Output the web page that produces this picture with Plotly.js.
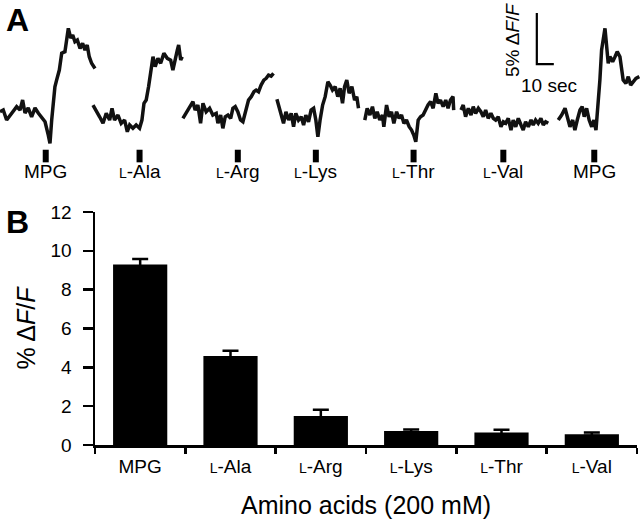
<!DOCTYPE html>
<html>
<head>
<meta charset="utf-8">
<script src="https://cdn.plot.ly/plotly-3.0.1.min.js"></script>
<style>html,body{margin:0;padding:0;background:#fff;}#chart{width:640px;height:520px;}</style>
</head>
<body>
<div id="chart"></div>
<script>
// ---------- Panel B data ----------
const categories = ['MPG', 'L-Ala', 'L-Arg', 'L-Lys', 'L-Thr', 'L-Val'];
const categoryLabels = ['MPG', '<span style="font-size:14px">L</span>-Ala', '<span style="font-size:14px">L</span>-Arg',
  '<span style="font-size:14px">L</span>-Lys', '<span style="font-size:14px">L</span>-Thr', '<span style="font-size:14px">L</span>-Val'];
const meanValues = [9.3, 4.58, 1.5, 0.72, 0.64, 0.56];
const semValues = [0.28, 0.27, 0.32, 0.08, 0.14, 0.08];
const yTickVals = [0, 2, 4, 6, 8, 10, 12];

// ---------- Panel A data (time in s, signal in % dF/F) ----------
const mpg1T = [0, 1.9, 3.9, 5.9, 7.8, 9.8, 11.8, 13.3, 14.7, 16.6, 18.6, 20.6, 22.5, 24.5, 26.5, 28.4, 29.4, 30.4, 31.3, 32.3, 33.3, 34.9, 36.3, 38.2, 39.2, 40.2, 41.6, 42.8, 44.1, 45.5, 47.1, 48.6, 50.0, 51.3, 52.5, 53.9, 55.9];
const mpg1V = [3.76, 3.92, 2.94, 3.43, 3.75, 4.25, 3.92, 4.9, 3.63, 4.12, 3.26, 4.12, 3.63, 3.26, 2.77, 1.47, 0.66, 2.94, 4.9, 6.2, 6.86, 7.84, 9.5, 9.64, 10.78, 11.93, 10.98, 11.27, 10.62, 10.78, 9.97, 10.46, 9.8, 10.29, 9.15, 8.5, 8.0];
const alaT = [54.7, 56.6, 58.6, 60.6, 62.5, 64.5, 65.9, 67.4, 69.4, 71.3, 73.3, 74.9, 76.3, 78.2, 80.1, 82.1, 83.5, 84.7, 86.0, 87.4, 88.6, 90.0, 91.3, 92.9, 94.5, 96.4, 98.4, 100.4, 101.7, 103.1, 104.3, 105.1, 106.3, 107.2];
const alaV = [4.41, 3.92, 3.26, 2.62, 3.6, 2.94, 4.09, 2.94, 3.43, 2.62, 2.94, 1.79, 2.45, 2.13, 2.45, 2.13, 2.94, 4.58, 4.9, 6.21, 7.52, 9.15, 8.17, 8.99, 8.5, 9.48, 8.99, 8.82, 7.84, 9.15, 9.8, 10.29, 8.82, 9.15];
const argT = [107.6, 109.5, 111.5, 113.5, 114.8, 116.4, 118.0, 119.4, 121.3, 123.3, 125.2, 127.2, 128.2, 129.8, 131.1, 132.5, 134.1, 135.7, 137.0, 138.4, 139.9, 141.5, 142.9, 144.5, 146.2, 147.8, 149.4, 150.7, 152.1, 153.6, 155.2, 156.6, 158.0, 159.5, 160.9];
const argV = [3.11, 3.6, 4.09, 4.74, 3.92, 4.41, 2.62, 4.58, 3.75, 4.09, 3.43, 3.6, 2.62, 3.43, 2.13, 3.26, 3.43, 3.11, 4.09, 4.25, 3.75, 2.94, 2.77, 3.92, 4.9, 5.23, 5.72, 5.88, 5.72, 6.37, 6.86, 7.03, 7.35, 7.25, 7.52];
const lysT = [162.9, 164.2, 165.4, 166.8, 168.2, 169.8, 171.3, 172.7, 174.0, 175.6, 177.2, 178.6, 179.9, 181.5, 183.0, 184.5, 185.8, 187.0, 188.3, 189.8, 191.3, 192.9, 194.2, 195.6, 197.2, 198.7, 200.1, 201.5, 202.7, 204.0, 205.4, 207.0, 208.6, 209.9, 210.9];
const lysV = [4.97, 4.09, 3.26, 2.62, 3.75, 2.94, 3.6, 2.28, 3.6, 2.94, 3.26, 2.45, 3.43, 2.77, 3.92, 4.09, 2.94, 1.3, 2.94, 4.41, 5.23, 6.7, 6.37, 5.88, 6.21, 5.23, 6.05, 4.58, 6.21, 6.86, 5.56, 6.21, 4.9, 5.23, 4.09];
const thrT = [214.6, 216.0, 217.6, 219.1, 220.5, 221.9, 223.4, 225.0, 225.8, 227.4, 228.9, 230.3, 231.7, 233.3, 234.8, 236.2, 237.6, 239.1, 240.7, 242.1, 243.4, 244.6, 246.0, 247.4, 248.9, 250.5, 251.8, 253.3, 254.8, 256.4, 257.7, 259.1, 260.7, 262.2, 263.6, 265.0, 266.5, 266.9];
const thrV = [2.94, 4.09, 3.43, 4.25, 3.11, 3.75, 2.94, 3.43, 2.28, 4.41, 3.26, 3.75, 2.62, 3.75, 3.11, 3.43, 2.62, 2.94, 2.28, 1.96, 1.47, 0.81, 2.94, 3.26, 3.43, 4.09, 4.41, 4.74, 4.09, 5.56, 4.58, 4.9, 4.25, 4.9, 4.09, 4.9, 5.23, 3.92];
const valT = [271.2, 272.5, 273.9, 275.5, 277.1, 278.4, 279.8, 281.4, 282.9, 284.3, 285.7, 287.2, 288.8, 290.2, 291.6, 293.1, 294.7, 296.1, 297.5, 299.0, 300.6, 301.9, 303.4, 304.9, 306.5, 307.8, 309.2, 310.8, 312.4, 313.7, 315.1, 316.6, 318.2, 319.6, 321.0, 322.5];
const valV = [3.92, 4.41, 3.26, 4.09, 3.43, 4.25, 3.6, 4.09, 3.75, 3.26, 3.92, 3.11, 3.6, 3.11, 2.94, 3.26, 2.28, 2.77, 2.62, 3.11, 1.96, 2.94, 2.28, 3.11, 2.45, 1.96, 2.77, 2.28, 2.94, 2.45, 2.94, 2.62, 3.11, 2.45, 2.77, 2.62];
const mpg2T = [328.4, 330.4, 332.4, 333.7, 335.3, 336.9, 338.2, 339.6, 341.2, 342.5, 343.7, 345.1, 346.6, 348.1, 349.4, 350.6, 351.9, 352.9, 353.9, 354.9, 355.9, 356.9, 357.8, 358.8, 360.4, 361.8, 363.1, 364.7, 365.7, 366.6, 368.2, 369.6, 371.0, 372.5, 374.1, 376.1];
const mpg2V = [2.94, 3.43, 4.09, 3.11, 2.28, 2.94, 1.96, 2.94, 3.92, 4.25, 3.26, 4.09, 2.94, 2.28, 2.94, 1.96, 4.25, 6.86, 9.8, 11.11, 11.93, 10.13, 8.5, 9.15, 8.66, 9.15, 9.64, 9.15, 7.84, 6.86, 6.54, 7.19, 6.37, 6.7, 7.03, 7.19];

const stimTimes = [26.9, 82.1, 139.9, 185.8, 243.3, 296.1, 349.6];
const stimLabels = ['MPG', '<span style="font-size:14px">L</span>-Ala', '<span style="font-size:14px">L</span>-Arg',
  '<span style="font-size:14px">L</span>-Lys', '<span style="font-size:14px">L</span>-Thr', '<span style="font-size:14px">L</span>-Val', 'MPG'];

// scale bar sizes (data units)
const scaleBarSec = 10;
const scaleBarPct = 5;

// ---------- layout constants ----------
const FONT = 'Liberation Sans, Arial, sans-serif';
const stimLevel = -0.59;
const sbT0 = 315.8, sbV0 = 8.43;

const lineStyle = {color: '#111', width: 3.5};
const tracePairs = [[mpg1T, mpg1V], [alaT, alaV], [argT, argV], [lysT, lysV], [thrT, thrV], [valT, valV], [mpg2T, mpg2V]];

const data = [];
tracePairs.forEach(p => data.push({
  type: 'scatter', mode: 'lines', x: p[0], y: p[1], xaxis: 'x2', yaxis: 'y2',
  line: lineStyle, hoverinfo: 'skip', showlegend: false
}));
data.push({
  type: 'scatter', mode: 'markers', x: stimTimes, y: stimTimes.map(() => stimLevel),
  xaxis: 'x2', yaxis: 'y2', showlegend: false, hoverinfo: 'skip', cliponaxis: false,
  marker: {symbol: 'line-ns', size: 9, line: {width: 6, color: '#000'}, color: '#000'}
});
data.push({
  type: 'scatter', mode: 'lines', x: [sbT0, sbT0, sbT0 + scaleBarSec], y: [sbV0 + scaleBarPct, sbV0, sbV0],
  xaxis: 'x2', yaxis: 'y2', showlegend: false, hoverinfo: 'skip',
  line: {color: '#000', width: 2.2}
});
data.push({
  type: 'bar', x: categories, y: meanValues, width: 0.6, showlegend: false,
  marker: {color: '#000', line: {width: 0}},
  error_y: {type: 'data', array: semValues, symmetric: true, color: '#000', thickness: 2.5, width: 8}
});

const ann = (o) => Object.assign({showarrow: false, xanchor: 'center', yanchor: 'middle'}, o);
const annotations = [
  ann({text: '<b>A</b>', xref: 'paper', yref: 'paper', x: 17 / 640, y: 1, yanchor: 'top', font: {family: FONT, size: 32, color: '#000'}}),
  ann({text: '<b>B</b>', xref: 'paper', yref: 'paper', x: 17 / 640, y: 1 - 222 / 520, font: {family: FONT, size: 32, color: '#000'}}),
  ann({text: '5% Δ<i>F</i>/<i>F</i>', xref: 'paper', yref: 'paper', x: 513 / 640, y: 1 - 40 / 520, textangle: -90, font: {family: FONT, size: 19, color: '#000'}}),
  ann({text: '10 sec', xref: 'paper', yref: 'paper', x: 549 / 640, y: 1 - 86 / 520, font: {family: FONT, size: 19, color: '#000'}})
];
stimTimes.forEach((t, i) => annotations.push(ann({
  text: stimLabels[i], xref: 'x2', yref: 'paper', x: t, y: 1 - 172 / 520,
  font: {family: FONT, size: 19, color: '#000'}
})));

const layout = {
  width: 640, height: 520,
  margin: {l: 0, r: 0, t: 0, b: 0},
  paper_bgcolor: '#fff', plot_bgcolor: 'rgba(0,0,0,0)',
  font: {family: FONT, color: '#000'},
  showlegend: false,
  bargap: 0.4,
  xaxis: {
    domain: [95 / 640, 637 / 640], type: 'category',
    tickvals: categories, ticktext: categoryLabels,
    showline: true, linecolor: '#000', linewidth: 2.5,
    ticks: 'outside', tickson: 'boundaries', ticklen: 6, tickwidth: 2.5, tickcolor: '#000',
    tickfont: {family: FONT, size: 19, color: '#000'}, ticklabelstandoff: 3,
    showgrid: false, zeroline: false, fixedrange: true,
    title: {text: 'Amino acids (200 mM)', font: {family: FONT, size: 25, color: '#000'}, standoff: 20}
  },
  yaxis: {
    domain: [75 / 520, 308 / 520], range: [0, 12], tickvals: yTickVals,
    showline: true, linecolor: '#000', linewidth: 2.5,
    ticks: 'outside', ticklen: 10, tickwidth: 2.5, tickcolor: '#000',
    tickfont: {family: FONT, size: 19, color: '#000'}, ticklabelstandoff: 7,
    showgrid: false, zeroline: false, fixedrange: true,
    title: {text: '% Δ<i>F</i>/<i>F</i>', font: {family: FONT, size: 25, color: '#000'}, standoff: 8}
  },
  xaxis2: {domain: [0, 1], range: [0, 376.5], visible: false, fixedrange: true, anchor: 'y2'},
  yaxis2: {domain: [340 / 520, 1], range: [-2.94, 14.71], visible: false, fixedrange: true, anchor: 'x2'},
  annotations: annotations
};

Plotly.newPlot('chart', data, layout, {displayModeBar: false, staticPlot: true});
</script>
</body>
</html>
